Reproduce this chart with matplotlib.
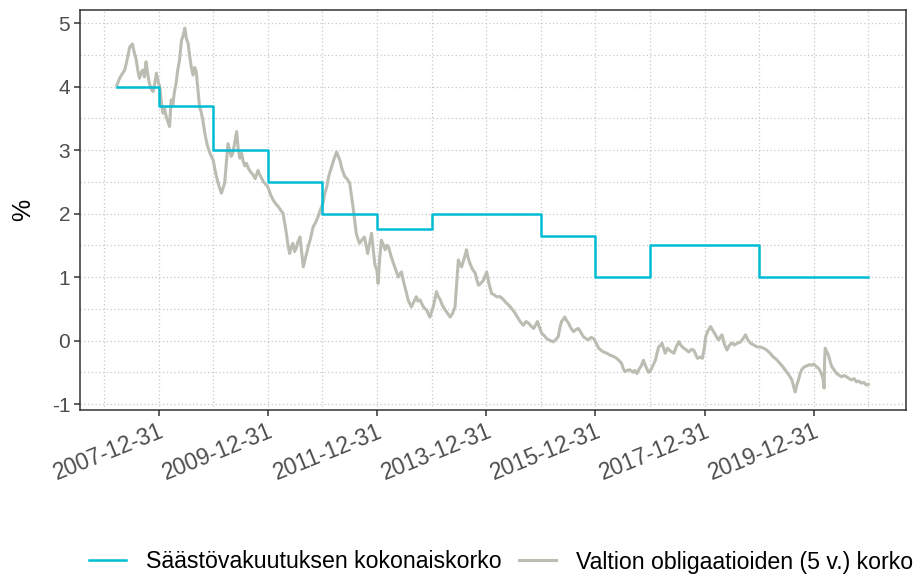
import matplotlib
matplotlib.use("Agg")
import matplotlib.pyplot as plt
from matplotlib.lines import Line2D
import numpy as np

plt.rcParams['font.family'] = ['Liberation Sans', 'DejaVu Sans']

# ---- data (decimal years) ----
step_dates = [2007.235, 2008.0, 2009.0, 2010.0, 2011.0, 2012.0, 2013.0,
              2015.0, 2016.0, 2017.0, 2019.0, 2021.0]
step_vals = [4.0, 3.7, 3.0, 2.5, 2.0, 1.75, 2.0, 1.65, 1.0, 1.5, 1.0, 1.0]

bond_dates = [
    2007.235, 2007.28, 2007.32, 2007.38, 2007.43, 2007.47, 2007.52, 2007.55, 2007.59, 2007.62,
    2007.65, 2007.68, 2007.71, 2007.74, 2007.77, 2007.80, 2007.83, 2007.87, 2007.90, 2007.93,
    2007.96, 2008.0, 2008.02, 2008.05, 2008.08, 2008.11, 2008.14, 2008.17, 2008.2, 2008.23,
    2008.26, 2008.29, 2008.32, 2008.35, 2008.38, 2008.42, 2008.45, 2008.48, 2008.51, 2008.54,
    2008.57, 2008.60, 2008.63, 2008.66, 2008.69, 2008.72, 2008.75, 2008.78, 2008.81, 2008.84,
    2008.87, 2008.9, 2008.94, 2009.0, 2009.03, 2009.06, 2009.1, 2009.15, 2009.18, 2009.21,
    2009.24, 2009.27, 2009.3, 2009.33, 2009.36, 2009.39, 2009.43, 2009.46, 2009.49, 2009.52,
    2009.55, 2009.58, 2009.61, 2009.65, 2009.69, 2009.73, 2009.77, 2009.82, 2009.86, 2009.92,
    2010.0, 2010.05, 2010.1, 2010.15, 2010.19, 2010.24, 2010.28, 2010.31, 2010.34, 2010.37,
    2010.4, 2010.43, 2010.46, 2010.49, 2010.52, 2010.55, 2010.59, 2010.62, 2010.65, 2010.69,
    2010.74, 2010.78, 2010.83, 2010.87, 2010.92, 2010.96, 2011.01, 2011.04, 2011.08, 2011.12,
    2011.17, 2011.21, 2011.26, 2011.29, 2011.32, 2011.36, 2011.41, 2011.45, 2011.5, 2011.53,
    2011.56, 2011.59, 2011.62, 2011.65, 2011.68, 2011.72, 2011.77, 2011.8, 2011.83, 2011.87,
    2011.9, 2011.93, 2011.96, 2012.0, 2012.02, 2012.05, 2012.08, 2012.12, 2012.15, 2012.18,
    2012.21, 2012.25, 2012.3, 2012.35, 2012.39, 2012.42, 2012.45, 2012.48, 2012.51, 2012.54,
    2012.57, 2012.6, 2012.63, 2012.67, 2012.72, 2012.75, 2012.79, 2012.82, 2012.85, 2012.88,
    2012.91, 2012.94, 2012.97, 2013.0, 2013.03, 2013.06, 2013.09, 2013.12, 2013.16, 2013.2,
    2013.25, 2013.3, 2013.34, 2013.38, 2013.43, 2013.46, 2013.49, 2013.52, 2013.55, 2013.6,
    2013.64, 2013.67, 2013.7, 2013.75, 2013.8, 2013.83, 2013.86, 2013.9, 2013.95, 2014.01,
    2014.05, 2014.1, 2014.15, 2014.19, 2014.26, 2014.32, 2014.36, 2014.41, 2014.47, 2014.53,
    2014.6, 2014.64, 2014.68, 2014.73, 2014.78, 2014.83, 2014.87, 2014.91, 2014.94, 2014.98,
    2015.02, 2015.06, 2015.11, 2015.17, 2015.23, 2015.28, 2015.32, 2015.35, 2015.38, 2015.41,
    2015.44, 2015.47, 2015.51, 2015.55, 2015.6, 2015.64, 2015.69, 2015.74, 2015.78, 2015.83,
    2015.87, 2015.92, 2015.97, 2016.02, 2016.06, 2016.1, 2016.15, 2016.21, 2016.27, 2016.33,
    2016.39, 2016.44, 2016.48, 2016.51, 2016.54, 2016.58, 2016.63, 2016.69, 2016.72, 2016.76,
    2016.8, 2016.84, 2016.88, 2016.91, 2016.94, 2016.97, 2017.0, 2017.04, 2017.1, 2017.13,
    2017.16, 2017.19, 2017.22, 2017.25, 2017.28, 2017.32, 2017.35, 2017.4, 2017.44, 2017.48,
    2017.53, 2017.57, 2017.62, 2017.67, 2017.71, 2017.76, 2017.8, 2017.84, 2017.87, 2017.92,
    2017.96, 2018.0, 2018.02, 2018.06, 2018.11, 2018.15, 2018.2, 2018.23, 2018.26, 2018.29,
    2018.32, 2018.36, 2018.41, 2018.45, 2018.5, 2018.55, 2018.6, 2018.65, 2018.69, 2018.72,
    2018.75, 2018.8, 2018.84, 2018.9, 2018.96, 2019.02, 2019.08, 2019.14, 2019.2, 2019.26,
    2019.32, 2019.38, 2019.44, 2019.5, 2019.55, 2019.6, 2019.63, 2019.66, 2019.69, 2019.72,
    2019.75, 2019.78, 2019.82, 2019.87, 2019.92, 2019.96, 2020.0, 2020.05, 2020.1, 2020.14,
    2020.17, 2020.19, 2020.2, 2020.21, 2020.24, 2020.27, 2020.3, 2020.33, 2020.38, 2020.42,
    2020.47, 2020.51, 2020.56, 2020.6, 2020.65, 2020.69, 2020.74, 2020.78, 2020.83, 2020.87,
    2020.92, 2020.96, 2021.0,
]
bond_vals = [
    4.02, 4.12, 4.18, 4.26, 4.45, 4.62, 4.67, 4.55, 4.42, 4.25,
    4.13, 4.22, 4.26, 4.15, 4.39, 4.2, 4.05, 3.95, 3.92, 4.05,
    4.21, 4.05, 4.0, 3.75, 3.58, 3.65, 3.52, 3.45, 3.37, 3.79,
    3.7, 3.92, 4.05, 4.26, 4.4, 4.73, 4.8, 4.92, 4.75, 4.68,
    4.47, 4.3, 4.18, 4.3, 4.23, 3.95, 3.68, 3.6, 3.47, 3.3,
    3.16, 3.05, 2.95, 2.84, 2.7, 2.58, 2.45, 2.32, 2.4, 2.48,
    2.8, 3.1, 3.0, 2.9, 2.95, 3.1, 3.29, 3.0, 2.87, 2.95,
    2.82, 2.75, 2.79, 2.7, 2.65, 2.61, 2.55, 2.68, 2.6, 2.5,
    2.42, 2.3, 2.21, 2.15, 2.11, 2.05, 2.0, 1.85, 1.69, 1.5,
    1.37, 1.48, 1.53, 1.4, 1.45, 1.55, 1.63, 1.4, 1.16, 1.3,
    1.48, 1.6, 1.79, 1.85, 1.95, 2.05, 2.16, 2.3, 2.42, 2.6,
    2.74, 2.85, 2.97, 2.9, 2.84, 2.7, 2.58, 2.55, 2.48, 2.3,
    2.11, 1.9, 1.69, 1.6, 1.53, 1.58, 1.63, 1.5, 1.37, 1.55,
    1.69, 1.45, 1.2, 1.1, 0.9, 1.3, 1.58, 1.5, 1.43, 1.5,
    1.48, 1.35, 1.22, 1.1, 1.0, 1.05, 1.08, 0.95, 0.85, 0.75,
    0.64, 0.58, 0.53, 0.6, 0.69, 0.62, 0.64, 0.58, 0.53, 0.5,
    0.48, 0.42, 0.37, 0.45, 0.53, 0.65, 0.77, 0.7, 0.64, 0.55,
    0.48, 0.42, 0.37, 0.42, 0.53, 0.9, 1.27, 1.2, 1.16, 1.3,
    1.43, 1.3, 1.22, 1.12, 1.06, 0.95, 0.87, 0.9, 0.95, 1.08,
    0.9, 0.74, 0.72, 0.69, 0.69, 0.64, 0.6, 0.56, 0.5, 0.43,
    0.33, 0.28, 0.24, 0.3, 0.27, 0.22, 0.19, 0.25, 0.3, 0.2,
    0.11, 0.08, 0.03, 0.0, -0.02, 0.02, 0.06, 0.2, 0.3, 0.33,
    0.37, 0.32, 0.27, 0.2, 0.14, 0.17, 0.19, 0.12, 0.06, 0.03,
    0.01, 0.05, 0.03, -0.05, -0.12, -0.15, -0.18, -0.2, -0.23, -0.25,
    -0.28, -0.32, -0.36, -0.44, -0.49, -0.47, -0.46, -0.5, -0.47, -0.52,
    -0.45, -0.4, -0.31, -0.38, -0.44, -0.5, -0.49, -0.42, -0.31, -0.2,
    -0.1, -0.08, -0.04, -0.12, -0.2, -0.12, -0.15, -0.18, -0.2, -0.1,
    -0.02, -0.08, -0.12, -0.15, -0.18, -0.14, -0.15, -0.22, -0.28, -0.26,
    -0.28, -0.1, 0.06, 0.15, 0.22, 0.16, 0.09, 0.04, 0.01, 0.06,
    0.09, -0.05, -0.15, -0.08, -0.04, -0.07, -0.04, -0.03, 0.01, 0.05,
    0.09, 0.0, -0.04, -0.07, -0.1, -0.1, -0.12, -0.15, -0.2, -0.26,
    -0.3, -0.36, -0.42, -0.49, -0.55, -0.62, -0.72, -0.81, -0.7, -0.62,
    -0.52, -0.46, -0.42, -0.4, -0.38, -0.39, -0.37, -0.41, -0.45, -0.52,
    -0.6, -0.75, -0.3, -0.12, -0.18, -0.23, -0.33, -0.41, -0.47, -0.52,
    -0.55, -0.57, -0.55, -0.57, -0.6, -0.62, -0.6, -0.65, -0.64, -0.67,
    -0.66, -0.7, -0.69,
]

x_tick_pos = [2008.0, 2010.0, 2012.0, 2014.0, 2016.0, 2018.0, 2020.0]
x_tick_labels = ["2007-12-31", "2009-12-31", "2011-12-31", "2013-12-31",
                 "2015-12-31", "2017-12-31", "2019-12-31"]
y_ticks = [-1, 0, 1, 2, 3, 4, 5]

series_names = ["Säästövakuutuksen kokonaiskorko", "Valtion obligaatioiden (5 v.) korko"]
col_step = "#00BCD4"
col_bond = "#BABEB2"

# ---- figure ----
fig = plt.figure(figsize=(9.24, 5.77), dpi=100)
ax = fig.add_axes([80/924, 1-410/577, (906-80)/924, 400/577])

ax.plot(bond_dates, bond_vals, color=col_bond, lw=2.2, zorder=3)
ax.step(step_dates, step_vals, where='post', color=col_step, lw=1.8, zorder=4)

ax.set_xlim(2006.56, 2021.69)
ax.set_ylim(-1.094, 5.205)

ax.set_xticks(x_tick_pos)
ax.set_xticklabels(x_tick_labels, rotation=22, ha='right', rotation_mode='anchor')
ax.set_xticks([2007, 2009, 2011, 2013, 2015, 2017, 2019, 2021], minor=True)
ax.set_yticks(y_ticks)
ax.set_yticklabels([str(v) for v in y_ticks])
ax.set_yticks(np.arange(-0.5, 5.0, 1.0), minor=True)

ax.grid(True, which='both', color='#C8C8C8', linestyle=(0, (1, 2)), lw=0.9)
ax.set_axisbelow(True)
ax.tick_params(axis='both', which='major', length=4, width=1.1, color='#333333',
               labelcolor='#4D4D4D', pad=3)
ax.tick_params(axis='y', which='major', labelsize=15)
ax.tick_params(axis='x', which='major', labelsize=16.5)
ax.tick_params(axis='both', which='minor', length=0)
for s in ax.spines.values():
    s.set_color('#333333')
    s.set_linewidth(1.1)

ax.set_ylabel('%', fontsize=18, color='black', labelpad=12)

handles = [Line2D([], [], color=col_step, lw=1.8), Line2D([], [], color=col_bond, lw=2.2)]
fig.legend(handles, series_names, loc='center', bbox_to_anchor=(501/924, 1-562/577),
           ncol=2, frameon=False, fontsize=16.7, handlelength=1.6, handletextpad=0.86,
           columnspacing=0.78, borderaxespad=0)

fig.savefig('out.png', dpi=100)
